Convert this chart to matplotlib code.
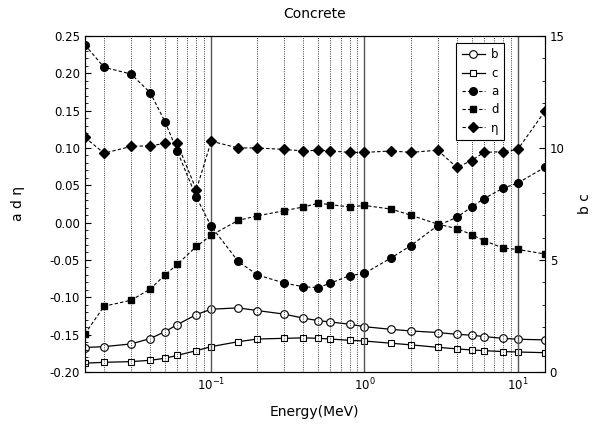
import matplotlib
matplotlib.use("Agg")
from matplotlib import pyplot as plt
from matplotlib.ticker import LogLocator, MultipleLocator, NullFormatter, FormatStrFormatter

energy = [0.015, 0.02, 0.03, 0.04, 0.05, 0.06, 0.08, 0.1, 0.15, 0.2, 0.3, 0.4, 0.5,
          0.6, 0.8, 1, 1.5, 2, 3, 4, 5, 6, 8, 10, 15]

# right axis
b = [1.09, 1.13, 1.25, 1.49, 1.80, 2.11, 2.56, 2.80, 2.86, 2.74, 2.58, 2.40, 2.29,
     2.23, 2.13, 2.02, 1.90, 1.83, 1.76, 1.68, 1.64, 1.58, 1.50, 1.46, 1.43]
c = [0.39, 0.43, 0.46, 0.52, 0.61, 0.74, 0.95, 1.13, 1.35, 1.47, 1.50, 1.52, 1.50,
     1.47, 1.41, 1.38, 1.28, 1.21, 1.10, 1.03, 0.98, 0.95, 0.91, 0.89, 0.86]

# left axis
a = [0.238, 0.208, 0.199, 0.174, 0.135, 0.096, 0.034, -0.005, -0.052, -0.070, -0.081,
     -0.086, -0.087, -0.081, -0.071, -0.068, -0.047, -0.031, -0.004, 0.007, 0.021,
     0.032, 0.046, 0.053, 0.074]
d = [-0.149, -0.112, -0.104, -0.089, -0.070, -0.056, -0.032, -0.017, 0.003, 0.009,
     0.016, 0.021, 0.026, 0.024, 0.021, 0.023, 0.018, 0.010, -0.002, -0.008, -0.016,
     -0.024, -0.034, -0.036, -0.042]
eta = [0.114, 0.093, 0.102, 0.103, 0.106, 0.106, 0.044, 0.109, 0.100, 0.100, 0.098,
       0.096, 0.097, 0.096, 0.094, 0.094, 0.096, 0.094, 0.097, 0.074, 0.083, 0.094,
       0.095, 0.098, 0.149]

plt.rcParams['font.family'] = ['DejaVu Sans']
plt.rcParams['font.size'] = 8.5

fig = plt.figure(figsize=(5.98, 4.28), dpi=100)
ax = fig.add_axes([0.142, 0.131, 0.769, 0.785])
ax2 = ax.twinx()

ax.set_xscale('log')
ax.set_xlim(0.015, 15)
ax.set_ylim(-0.20, 0.25)
ax2.set_ylim(0, 15)

ax.xaxis.set_major_locator(LogLocator(base=10))
ax.xaxis.set_minor_locator(LogLocator(base=10, subs=range(2, 10)))
ax.xaxis.set_minor_formatter(NullFormatter())
ax.grid(True, which='major', axis='x', color='#555555', lw=1.0, ls='-')
ax.grid(True, which='minor', axis='x', color='black', lw=0.6, ls=':')

ax.yaxis.set_major_locator(MultipleLocator(0.05))
ax.yaxis.set_minor_locator(MultipleLocator(0.01))
ax.yaxis.set_major_formatter(FormatStrFormatter('%.2f'))
ax2.yaxis.set_major_locator(MultipleLocator(5))
ax2.yaxis.set_minor_locator(MultipleLocator(1))

for axis in (ax, ax2):
    axis.tick_params(which='both', direction='in')
    axis.tick_params(which='major', length=4)
    axis.tick_params(which='minor', length=2)
ax.tick_params(axis='x', which='both', length=0)

dash = (0, (3, 2))
lb, = ax2.plot(energy, b, '-', color='black', lw=0.9, marker='o', ms=5.5,
               mfc='white', mec='black', mew=0.8, label='b')
lc, = ax2.plot(energy, c, '-', color='black', lw=0.9, marker='s', ms=5,
               mfc='white', mec='black', mew=0.8, label='c')
la, = ax.plot(energy, a, ls=dash, color='black', lw=0.8, marker='o', ms=5.5,
              label='a')
ld, = ax.plot(energy, d, ls=dash, color='black', lw=0.8, marker='s', ms=5,
              label='d')
le, = ax.plot(energy, eta, ls=dash, color='black', lw=0.8, marker='D', ms=5,
              label='η')
ax.set_zorder(ax2.get_zorder() + 1)
ax.patch.set_visible(False)

leg = ax.legend(handles=[lb, lc, la, ld, le], loc='upper right',
                bbox_to_anchor=(0.911, 0.979), borderaxespad=0,
                fancybox=False, framealpha=1,
                edgecolor='black', handlelength=2.0, handletextpad=0.5,
                borderpad=0.45, labelspacing=0.45, fontsize=8.5)
leg.get_frame().set_linewidth(0.8)

ax.set_title('Concrete', fontsize=10, pad=13)
ax.set_xlabel('Energy(MeV)', fontsize=10, labelpad=8)
ax.set_ylabel('a d η', fontsize=10, labelpad=18)
ax2.set_ylabel('b c', fontsize=10, labelpad=10)

fig.savefig('out.png', dpi=100)
